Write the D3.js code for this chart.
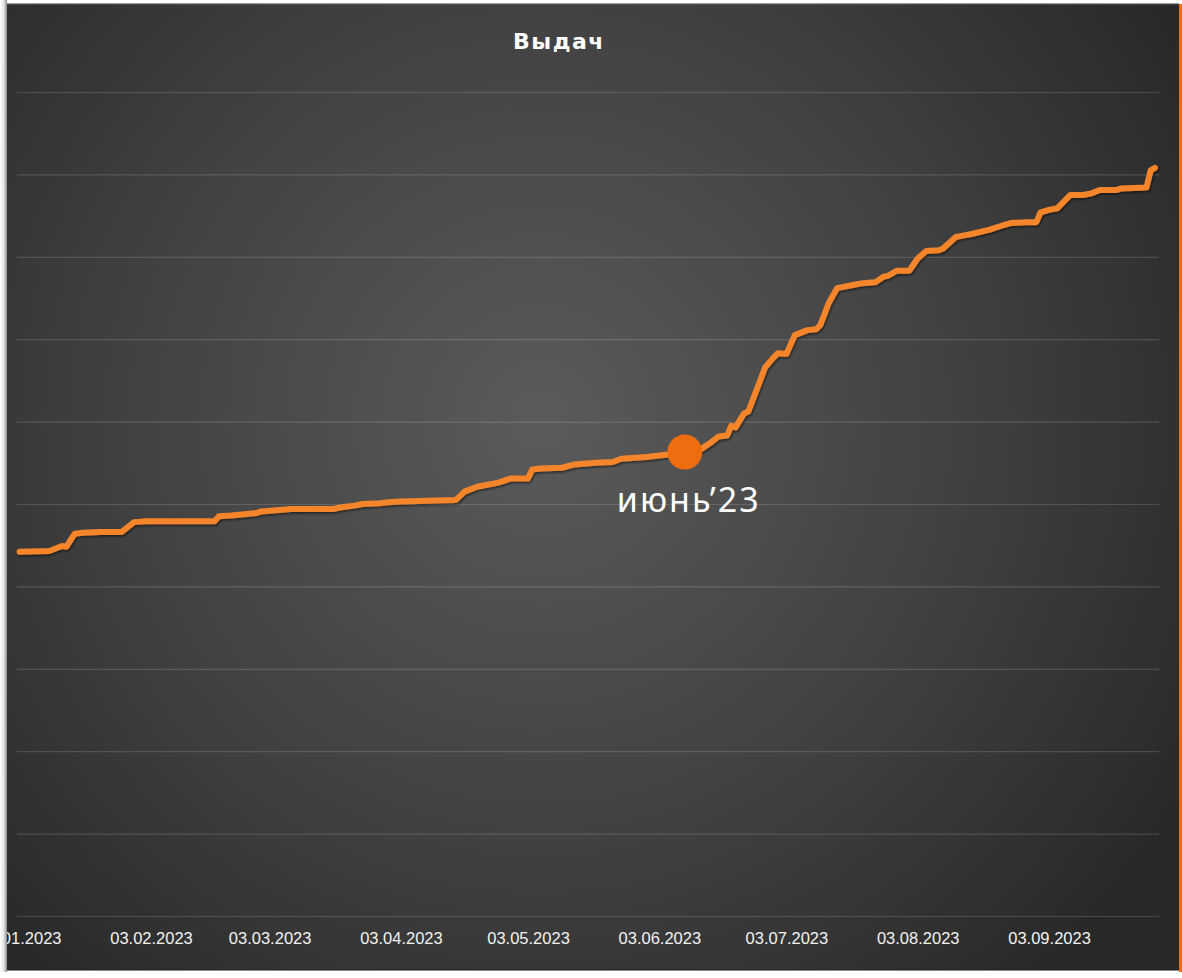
<!DOCTYPE html>
<html>
<head>
<meta charset="utf-8">
<script src="https://cdn.jsdelivr.net/npm/d3@7"></script>
<style>
  html, body { margin: 0; padding: 0; background: #ffffff; }
  svg { display: block; }
</style>
</head>
<body>
<svg id="chart" width="1182" height="978"></svg>
<script>
// ---------- DATA ----------
const titleText = "Выдач";
const dates = [
  "2023-01-03","2023-01-10","2023-01-13","2023-01-14","2023-01-16","2023-01-18","2023-01-22","2023-01-27",
  "2023-01-30","2023-02-02","2023-02-18","2023-02-19","2023-02-22","2023-02-28","2023-03-01","2023-03-06",
  "2023-03-08","2023-03-18","2023-03-20","2023-03-23","2023-03-25","2023-03-29","2023-03-31","2023-04-03",
  "2023-04-16","2023-04-18","2023-04-21","2023-04-26","2023-04-29","2023-05-03","2023-05-04","2023-05-06",
  "2023-05-11","2023-05-14","2023-05-19","2023-05-23","2023-05-25","2023-05-31","2023-06-05","2023-06-09",
  "2023-06-13","2023-06-15","2023-06-17","2023-06-19","2023-06-20","2023-06-21","2023-06-23","2023-06-24",
  "2023-06-28","2023-06-30","2023-07-01","2023-07-03","2023-07-05","2023-07-08","2023-07-10","2023-07-11",
  "2023-07-13","2023-07-15","2023-07-19","2023-07-21","2023-07-24","2023-07-26","2023-07-27","2023-07-29",
  "2023-08-01","2023-08-03","2023-08-05","2023-08-08","2023-08-09","2023-08-12","2023-08-14","2023-08-16",
  "2023-08-20","2023-08-23","2023-08-25","2023-08-29","2023-08-31","2023-09-01","2023-09-03","2023-09-05",
  "2023-09-08","2023-09-11","2023-09-13","2023-09-15","2023-09-19","2023-09-20","2023-09-26","2023-09-27",
  "2023-09-28"
];
const values = [
  44.2, 44.3, 44.9, 44.8, 46.4, 46.5, 46.6, 46.6,
  47.8, 47.9, 47.9, 48.5, 48.6, 48.9, 49.1, 49.3,
  49.4, 49.4, 49.6, 49.8, 50.0, 50.1, 50.2, 50.3,
  50.5, 51.5, 52.1, 52.6, 53.1, 53.1, 54.2, 54.3,
  54.4, 54.8, 55.0, 55.1, 55.5, 55.7, 56.0, 56.3,
  56.7, 57.4, 58.2, 58.3, 59.5, 59.3, 61.0, 61.2,
  66.6, 67.8, 68.3, 68.2, 70.5, 71.1, 71.2, 71.7,
  74.4, 76.2, 76.6, 76.8, 76.9, 77.6, 77.7, 78.3,
  78.3, 79.8, 80.7, 80.8, 81.0, 82.4, 82.6, 82.8,
  83.3, 83.8, 84.1, 84.2, 84.2, 85.4, 85.7, 85.9,
  87.5, 87.5, 87.7, 88.1, 88.1, 88.3, 88.4, 90.5,
  90.8
];
const tickDates = ["2023-01-03","2023-02-03","2023-03-03","2023-04-03","2023-05-03","2023-06-03","2023-07-03","2023-08-03","2023-09-03"];
const gridValues = [0, 10, 20, 30, 40, 50, 60, 70, 80, 90, 100];
const xDomain = ["2023-01-03", "2023-09-30"];
const yDomain = [0, 100];
const highlightDate = "2023-06-09";
const highlightLabel = "июнь’23";

// ---------- DRAW ----------
const parse = d3.timeParse("%Y-%m-%d");
const fmt = d3.timeFormat("%d.%m.%Y");
const data = dates.map((d, i) => ({ date: parse(d), value: values[i] }));

const svg = d3.select("#chart");
const panel = { x: 7, y: 4, w: 1172, h: 966 };
const plot = { left: 17, right: 1159, top: 92, bottom: 916 };

const defs = svg.append("defs");
const rg = defs.append("radialGradient").attr("id", "bg")
  .attr("gradientUnits", "userSpaceOnUse")
  .attr("cx", 540).attr("cy", 420).attr("r", 760);
rg.append("stop").attr("offset", "0%").attr("stop-color", "#5b5b5b");
rg.append("stop").attr("offset", "55%").attr("stop-color", "#414141");
rg.append("stop").attr("offset", "100%").attr("stop-color", "#282828");

const lg = defs.append("linearGradient").attr("id", "leftShade")
  .attr("x1", "0%").attr("x2", "100%");
lg.append("stop").attr("offset", "0%").attr("stop-color", "#ffffff");
lg.append("stop").attr("offset", "55%").attr("stop-color", "#e4e4e4");
lg.append("stop").attr("offset", "100%").attr("stop-color", "#8a8a8a");

const sh = defs.append("filter").attr("id", "lineShadow")
  .attr("x", "-5%").attr("y", "-5%").attr("width", "110%").attr("height", "110%");
sh.append("feDropShadow").attr("dx", 1).attr("dy", 1.5).attr("stdDeviation", 1.2)
  .attr("flood-color", "#000").attr("flood-opacity", 0.55);

const clip = defs.append("clipPath").attr("id", "panelClip");
clip.append("rect").attr("x", panel.x).attr("y", panel.y).attr("width", panel.w).attr("height", panel.h);

// panel
svg.append("rect").attr("x", panel.x).attr("y", panel.y)
  .attr("width", panel.w).attr("height", panel.h).attr("fill", "url(#bg)");

const g = svg.append("g").attr("clip-path", "url(#panelClip)");

const x = d3.scaleTime()
  .domain(xDomain.map(parse))
  .range([19.7, 19.7 + 270 * 4.236]);
const y = d3.scaleLinear().domain(yDomain).range([plot.bottom, plot.top]);

// grid
const grid = g.append("g").attr("transform", `translate(${plot.left},0)`)
  .call(d3.axisLeft(y).tickValues(gridValues).tickSize(-(plot.right - plot.left)).tickFormat(""));
grid.select(".domain").remove();
grid.selectAll(".tick line").attr("stroke", "#ffffff").attr("stroke-opacity", 0.14).attr("stroke-width", 1.2);

// x axis
const xAxis = g.append("g").attr("transform", `translate(0,${plot.bottom})`)
  .call(d3.axisBottom(x).tickValues(tickDates.map(parse)).tickSize(0).tickPadding(16).tickFormat(fmt));
xAxis.select(".domain").remove();
xAxis.selectAll("text")
  .attr("fill", "#f2f2f2")
  .style("font-family", "'Liberation Sans', Arial, sans-serif")
  .style("font-size", "16.5px");

// line
const line = d3.line().x(d => x(d.date)).y(d => y(d.value)).curve(d3.curveLinear);
g.append("path").datum(data)
  .attr("d", line)
  .attr("fill", "none")
  .attr("stroke", "#f5852c")
  .attr("stroke-width", 6)
  .attr("stroke-linejoin", "round")
  .attr("stroke-linecap", "round")
  .attr("filter", "url(#lineShadow)");

// highlight
const hp = data.find(d => +d.date === +parse(highlightDate));
g.append("circle")
  .attr("cx", x(hp.date)).attr("cy", y(hp.value)).attr("r", 17.5)
  .attr("fill", "#ee6e0f");
g.append("text")
  .attr("x", x(hp.date) + 4).attr("y", y(hp.value) + 60)
  .attr("text-anchor", "middle")
  .attr("fill", "#ffffff")
  .style("font-family", "'Noto Sans', sans-serif")
  .style("font-size", "34px")
  .style("letter-spacing", "2px")
  .style("font-weight", 400)
  .text(highlightLabel);

// title
svg.append("text")
  .attr("x", 559).attr("y", 49)
  .attr("text-anchor", "middle")
  .attr("fill", "#ffffff")
  .style("font-family", "'DejaVu Sans', Verdana, sans-serif")
  .style("font-weight", "bold")
  .style("font-size", "22px")
  .style("letter-spacing", "1.5px")
  .text(titleText);

// frame details
svg.append("rect").attr("x", 0).attr("y", 0).attr("width", 7).attr("height", 972).attr("fill", "url(#leftShade)");
svg.append("rect").attr("x", 7).attr("y", 3).attr("width", 1172).attr("height", 1.2).attr("fill", "#9a9a9a");
svg.append("rect").attr("x", 7).attr("y", 969.5).attr("width", 1172).attr("height", 1).attr("fill", "#1a1a1a");
svg.append("rect").attr("x", 1179).attr("y", 4).attr("width", 3).attr("height", 968).attr("fill", "#f26a0c");
</script>
</body>
</html>
